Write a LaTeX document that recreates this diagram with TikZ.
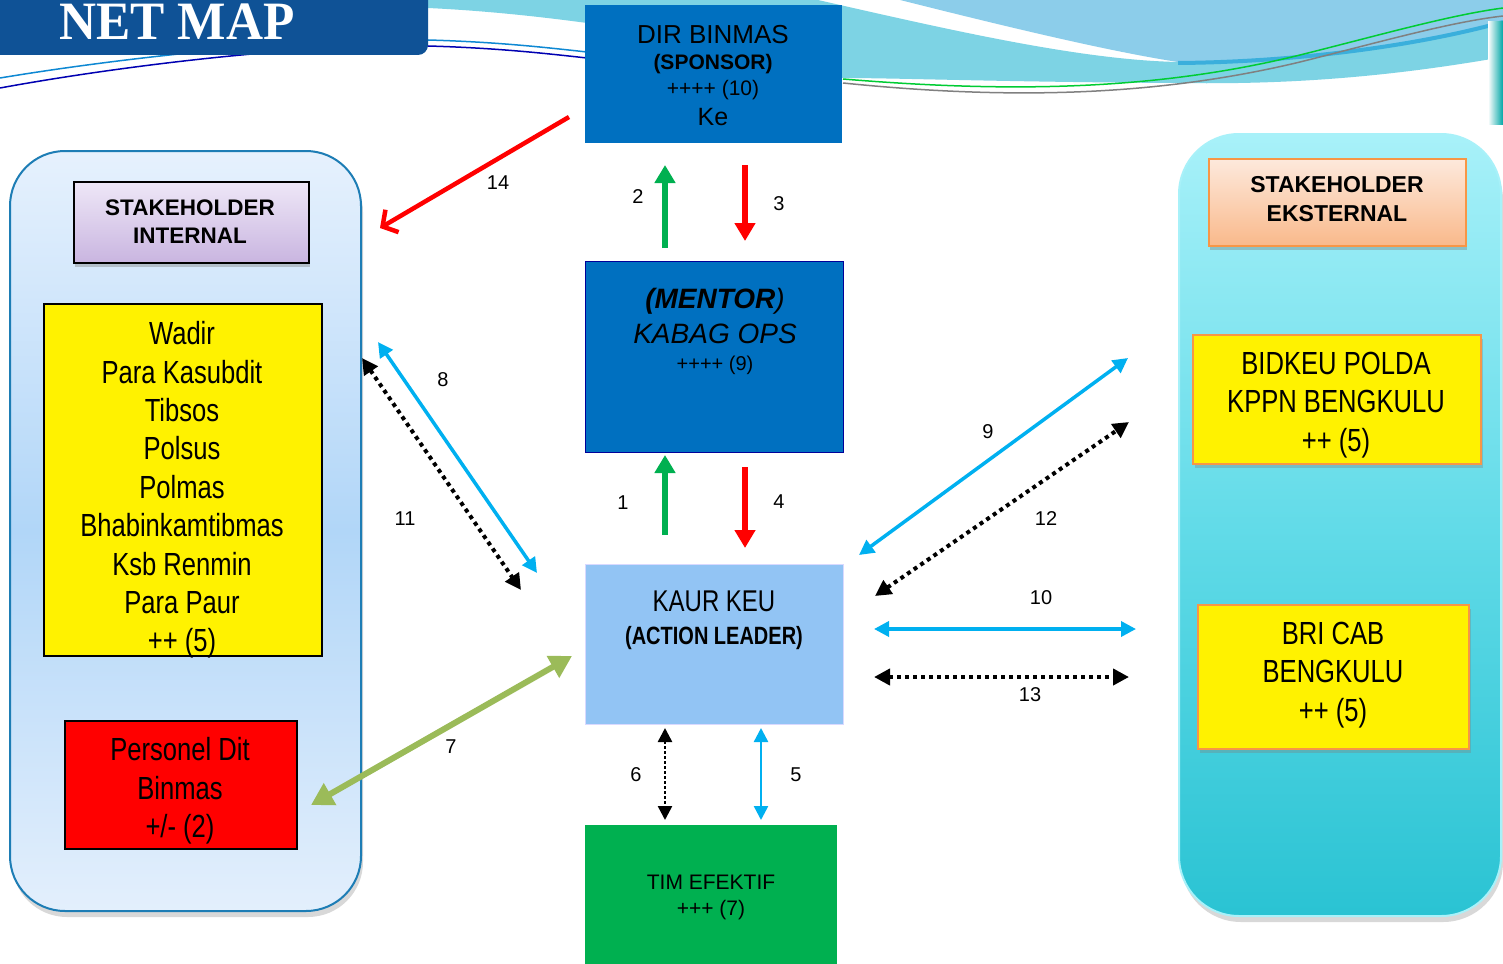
\documentclass[tikz,border=0pt]{standalone}
\usepackage{fontspec}
\setmainfont{Liberation Sans}
\newfontfamily\narrowfont[FakeStretch=0.8]{Liberation Sans}
\newfontfamily\titlefont[FakeStretch=0.95]{Liberation Serif}
\usetikzlibrary{arrows.meta,shadows}
\definecolor{titleblue}{HTML}{0F5296}
\definecolor{boxblue}{HTML}{0070C0}
\definecolor{lightbox}{HTML}{92C4F4}
\definecolor{timgreen}{HTML}{00B050}
\definecolor{arrgreen}{HTML}{00B050}
\definecolor{arrred}{HTML}{FF0000}
\definecolor{arrcyan}{HTML}{00B0F0}
\definecolor{olivegreen}{HTML}{9BBB59}
\definecolor{panelborder}{HTML}{1D7DB5}
\definecolor{orangeb}{HTML}{F79646}
\definecolor{swooshA}{HTML}{7DD3E4}
\definecolor{swooshB}{HTML}{8CCDEA}
\definecolor{swooshC}{HTML}{3AAFDC}
\definecolor{intTop}{HTML}{E6F1FD}
\definecolor{intMid}{HTML}{B1D6F8}
\definecolor{intBot}{HTML}{E3EFFC}
\definecolor{extTop}{HTML}{A8F1F9}
\definecolor{extMid}{HTML}{62DBE8}
\definecolor{extBot}{HTML}{2AC3D3}
\definecolor{lavTop}{HTML}{EEE7F7}
\definecolor{lavBot}{HTML}{C9B5E0}
\definecolor{peachTop}{HTML}{FDE9DC}
\definecolor{peachBot}{HTML}{F9B98B}
\newcommand{\fsz}[2]{\fontsize{#1pt}{#2pt}\selectfont}
\begin{document}
\begin{tikzpicture}[x=1pt,y=-1pt,
  box/.style={inner sep=0pt, anchor=north west},
  bigarrow/.style={line width=6pt, -{Triangle[length=18pt,width=20pt]}},
  cyanarrow/.style={arrcyan, line width=3.5pt, {Triangle[length=15pt,width=15pt]}-{Triangle[length=15pt,width=15pt]}},
  dotarrow/.style={black, line width=4pt, dash pattern=on 4pt off 4pt, {Triangle[length=16pt,width=16pt]}-{Triangle[length=16pt,width=16pt]}},
  thindot/.style={black, line width=2.5pt, dash pattern=on 2.5pt off 2.5pt, {Triangle[length=14pt,width=14pt]}-{Triangle[length=14pt,width=14pt]}},
  thincyan/.style={arrcyan, line width=2.5pt, {Triangle[length=14pt,width=14pt]}-{Triangle[length=14pt,width=14pt]}},
  num/.style={font=\fsz{20}{24}},
  yellowbox/.style={box, fill=yellow, draw=black, line width=2pt},
  yellowext/.style={box, fill=yellow, draw=orangeb, line width=2pt, drop shadow={opacity=0.35, shadow xshift=2pt, shadow yshift=-4pt}},
]
\useasboundingbox (0,0) rectangle (1503,963);
\fill[white] (0,0) rectangle (1503,963);

% background swooshes
\fill[swooshA] (428,0) -- (818,0) .. controls (950,30) and (1080,60) .. (1178,62)
   .. controls (1300,62) and (1420,45) .. (1503,20) -- (1503,57)
   .. controls (1400,75) and (1300,85) .. (1178,83)
   .. controls (1000,82) and (900,78) .. (842,78) -- (587,23)
   .. controls (520,14) and (470,10) .. (428,8) -- cycle;
\fill[swooshB] (900,0) -- (1503,0) -- (1503,20)
   .. controls (1420,45) and (1300,62) .. (1178,62)
   .. controls (1100,50) and (980,20) .. (900,0) -- cycle;
\draw[swooshC, line width=4pt] (1178,63) .. controls (1300,62) and (1420,45) .. (1503,22);
\draw[cyan!70!blue, line width=1.5pt] (0,78) .. controls (120,58) and (300,38) .. (428,40) .. controls (500,42) and (550,48) .. (587,52);
\draw[blue!70!black, line width=1.5pt] (0,88) .. controls (120,66) and (300,44) .. (428,46) .. controls (500,48) and (550,54) .. (587,58);
\draw[green!60!teal, line width=1.5pt] (843,79) .. controls (1000,92) and (1150,92) .. (1300,55) .. controls (1380,35) and (1450,15) .. (1503,8);
\draw[gray, line width=1.5pt] (843,83) .. controls (1000,99) and (1150,98) .. (1300,62) .. controls (1380,42) and (1450,22) .. (1503,16);
\shade[left color=white, right color=teal!70!cyan] (1488,22) rectangle (1503,125);

% title banner
\fill[titleblue] (0,0) -- (428,0) [rounded corners=10pt] -- (428,55) [sharp corners] -- (0,55) -- cycle;
\node[anchor=base, text=white, font=\titlefont\bfseries\fsz{54}{60}] (title) at (177,40) {NET MAP};

% panels
\node[box, minimum width=351pt, minimum height=760pt, rounded corners=55pt, draw=panelborder, line width=2pt,
  top color=intTop, bottom color=intBot, middle color=intMid,
  drop shadow={opacity=0.3, shadow xshift=2pt, shadow yshift=-6pt}] (intpanel) at (9,150) {};
\node[box, minimum width=322pt, minimum height=782pt, rounded corners=60pt, draw=extTop, line width=2pt,
  top color=extTop, bottom color=extBot, middle color=extMid,
  drop shadow={opacity=0.3, shadow xshift=2pt, shadow yshift=-6pt}] (extpanel) at (1178,133) {};

% internal stakeholder
\node[box, minimum width=235pt, minimum height=81pt, draw=black, line width=2pt,
  top color=lavTop, bottom color=lavBot,
  drop shadow={opacity=0.4, shadow xshift=1pt, shadow yshift=-4pt}] (inthead) at (73,181) {};
\node[font=\bfseries\fsz{22.5}{28}, align=center] (intheadT) at (190,222) {STAKEHOLDER\\INTERNAL};

\node[yellowbox, minimum width=278pt, minimum height=352pt] (intyellow) at (43,303) {};
\node[font=\narrowfont\fsz{32}{38.4}, align=center] (intyellowT) at (182,490)
  {Wadir\\Para Kasubdit\\Tibsos\\Polsus\\Polmas\\Bhabinkamtibmas\\Ksb Renmin\\Para Paur\\++ (5)};

\node[box, fill=red, draw=black, line width=2pt, minimum width=232pt, minimum height=128pt] (personel) at (64,720) {};
\node[font=\narrowfont\fsz{32}{38.4}, align=center] (personelT) at (180,791) {Personel Dit\\Binmas\\+/- (2)};

% external stakeholder
\node[box, minimum width=257pt, minimum height=87pt, draw=orangeb, line width=2pt,
  top color=peachTop, bottom color=peachBot,
  drop shadow={opacity=0.4, shadow xshift=1pt, shadow yshift=-4pt}] (exthead) at (1208,158) {};
\node[font=\bfseries\fsz{23}{29}, align=center] (extheadT) at (1337,199) {STAKEHOLDER\\EKSTERNAL};

\node[yellowext, minimum width=288pt, minimum height=129pt] (bidkeu) at (1192,334) {};
\node[font=\narrowfont\fsz{32}{38.5}, align=center] (bidkeuT) at (1336,405) {BIDKEU POLDA\\KPPN BENGKULU\\++ (5)};
\node[yellowext, minimum width=271pt, minimum height=144pt] (bri) at (1197,604) {};
\node[font=\narrowfont\fsz{32}{38.5}, align=center] (briT) at (1333,675) {BRI CAB\\BENGKULU\\++ (5)};

% central column
\node[box, fill=boxblue, minimum width=257pt, minimum height=138pt] (dir) at (585,5) {};
\node[font=\fsz{26}{26}, align=center] (dirT) at (713,76)
  {DIR BINMAS\\{\bfseries\fsz{21}{26}(SPONSOR)}\\{\fsz{21}{26}++++ (10)}\\[4pt]{\fsz{25}{26}Ke}};

\node[box, fill=boxblue, draw=blue!60!black, line width=0.8pt, minimum width=258pt, minimum height=191pt] (mentor) at (585,261) {};
\node[font=\fsz{28}{35}, align=center] (mentorT) at (715,331)
  {{\bfseries\itshape (MENTOR}{\itshape )}\\{\itshape KABAG OPS}\\[-8pt]{\fsz{20}{35}++++ (9)}};

\node[box, fill=lightbox, draw=blue!15!white, line width=1pt, minimum width=258pt, minimum height=160pt] (kaur) at (585,564) {};
\node[font=\narrowfont\fsz{30}{33}, align=center] (kaurT) at (714,620)
  {KAUR KEU\\{\bfseries\fsz{25}{33}(ACTION LEADER)}};

\node[box, fill=timgreen, minimum width=252pt, minimum height=140pt] (tim) at (585,825) {};
\node[font=\fsz{21}{26}, align=center] (timT) at (711,897) {TIM EFEKTIF\\+++ (7)};

% connector end points
\coordinate (a14s) at (569,117);  \coordinate (a14e) at (380,228);
\coordinate (a2s) at (665,248);   \coordinate (a2e) at (665,165);
\coordinate (a3s) at (745,165);   \coordinate (a3e) at (745,241);
\coordinate (a1s) at (665,535);   \coordinate (a1e) at (665,455);
\coordinate (a4s) at (745,467);   \coordinate (a4e) at (745,548);
\coordinate (a8s) at (378,342);   \coordinate (a8e) at (537,573);
\coordinate (a11s) at (362,358);  \coordinate (a11e) at (521,590);
\coordinate (a7s) at (572,656);   \coordinate (a7e) at (311,805);
\coordinate (a9s) at (859,555);   \coordinate (a9e) at (1128,358);
\coordinate (a12s) at (875,596);  \coordinate (a12e) at (1129,422);
\coordinate (a10s) at (874,629);  \coordinate (a10e) at (1136,629);
\coordinate (a13s) at (874,677);  \coordinate (a13e) at (1129,677);
\coordinate (a6s) at (665,728);   \coordinate (a6e) at (665,820);
\coordinate (a5s) at (761,728);   \coordinate (a5e) at (761,820);

% connectors
\draw[arrred, line width=4.5pt, -{Straight Barb[length=11pt,width=26pt]}] (a14s) -- (a14e);
\draw[arrgreen, bigarrow] (a2s) -- (a2e);
\draw[arrred, bigarrow] (a3s) -- (a3e);
\draw[arrgreen, bigarrow] (a1s) -- (a1e);
\draw[arrred, bigarrow] (a4s) -- (a4e);
\draw[cyanarrow] (a8s) -- (a8e);
\draw[dotarrow] (a11s) -- (a11e);
\draw[olivegreen, line width=6pt, {Triangle[length=22pt,width=24pt]}-{Triangle[length=22pt,width=24pt]}] (a7s) -- (a7e);
\draw[cyanarrow] (a9s) -- (a9e);
\draw[dotarrow] (a12s) -- (a12e);
\draw[cyanarrow] (a10s) -- (a10e);
\draw[dotarrow] (a13s) -- (a13e);
\draw[thindot] (a6s) -- (a6e);
\draw[thincyan] (a5s) -- (a5e);

% labels
\node[num] (n14) at (498,183) {14};
\node[num] (n2) at (638,197) {2};
\node[num] (n3) at (779,204) {3};
\node[num] (n1) at (623,503) {1};
\node[num] (n4) at (779,502) {4};
\node[num] (n8) at (443,380) {8};
\node[num] (n11) at (405,519) {11};
\node[num] (n7) at (451,747) {7};
\node[num] (n9) at (988,432) {9};
\node[num] (n12) at (1046,519) {12};
\node[num] (n10) at (1041,598) {10};
\node[num] (n13) at (1030,695) {13};
\node[num] (n6) at (636,775) {6};
\node[num] (n5) at (796,775) {5};
\end{tikzpicture}
\end{document}
